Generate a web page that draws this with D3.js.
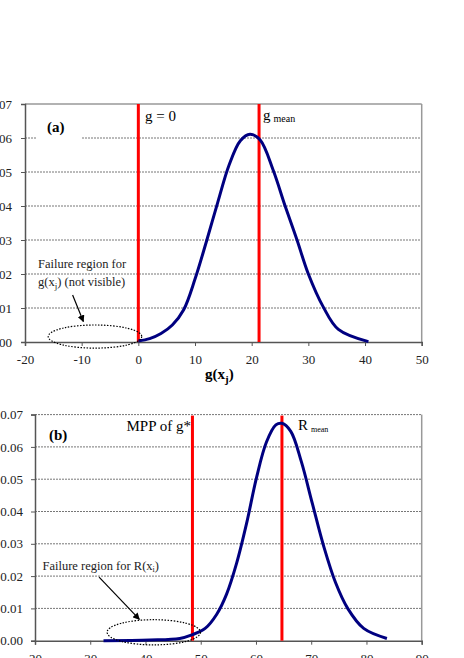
<!DOCTYPE html>
<html>
<head>
<meta charset="utf-8">
<script src="https://cdn.jsdelivr.net/npm/d3@7"></script>
<style>
  body { margin: 0; background: #fff; }
  svg { display: block; font-family: "Liberation Serif", "Times New Roman", serif; }
</style>
</head>
<body>
<div id="wrapper"></div>
<script>
// panel (a): g(xj) density
var gX = [0, 2, 4, 6, 8, 10, 12, 14, 16, 18, 19.7, 21.5, 23.8, 25.9, 28.0, 30.0, 32.6, 35.3, 40.6];
var gY = [0.0003, 0.001, 0.0025, 0.005, 0.0095, 0.0185, 0.0295, 0.041, 0.052, 0.0592, 0.0611, 0.0594, 0.0505, 0.040, 0.030, 0.020, 0.0104, 0.0037, 0.0001];
var gTicksX = [-20, -10, 0, 10, 20, 30, 40, 50];
var gLines = [0, 21.3];   // g = 0 and g mean

// panel (b): R(xi) density
var rX = [32.4, 40.8, 46.2, 48.4, 50.8, 52.9, 54.7, 56.5, 58.3, 60.1, 61.9, 63.6, 64.7, 66.3, 68.2, 70.2, 72.3, 74.4, 76.6, 79.5, 83.7];
var rY = [0.0, 0.0002, 0.0007, 0.0018, 0.0038, 0.0082, 0.0145, 0.024, 0.0363, 0.0505, 0.0615, 0.0668, 0.0673, 0.0648, 0.0555, 0.0425, 0.029, 0.018, 0.010, 0.0038, 0.0007];
var rTicksX = [20, 30, 40, 50, 60, 70, 80, 90];
var rLines = [48.5, 64.7];  // MPP of g* and R mean

var yTicks = [0, 0.01, 0.02, 0.03, 0.04, 0.05, 0.06, 0.07];

const svg = d3.select("#wrapper")
    .append("svg")
    .attr("width", 464)
    .attr("height", 658);

svg.append("defs").append("marker")
    .attr("id", "arr")
    .attr("viewBox", "0 0 10 10")
    .attr("refX", 9).attr("refY", 5)
    .attr("markerWidth", 7).attr("markerHeight", 7)
    .attr("markerUnits", "userSpaceOnUse")
    .attr("orient", "auto")
    .append("path")
    .attr("d", "M0,0 L10,5 L0,10 z")
    .attr("fill", "#000");

function panel(opt) {
    var x = d3.scaleLinear().domain(opt.xDomain).range([opt.left, opt.right]);
    var y = d3.scaleLinear().domain([0, 0.07]).range([opt.bottom, opt.top]);
    var g = svg.append("g");

    // grid
    g.selectAll(".grid")
        .data(yTicks.filter(d => d > 0 && (opt.topBorder ? d < 0.07 : true)))
        .enter().append("line")
        .attr("x1", opt.left).attr("x2", opt.right)
        .attr("y1", d => y(d)).attr("y2", d => y(d))
        .attr("stroke", "#777").attr("stroke-width", 1)
        .attr("stroke-dasharray", "2,1");

    // frame
    if (opt.topBorder) {
        g.append("line").attr("x1", opt.left).attr("x2", opt.right)
            .attr("y1", y(0.07)).attr("y2", y(0.07))
            .attr("stroke", "#999").attr("stroke-width", 1.5);
    }
    g.append("line").attr("x1", opt.right).attr("x2", opt.right)
        .attr("y1", y(0.07)).attr("y2", opt.bottom)
        .attr("stroke", "#999").attr("stroke-width", 1.5);

    // axes
    const ya = g.append("g")
        .attr("transform", `translate(${opt.left},0)`)
        .call(d3.axisLeft(y).tickValues(yTicks).tickFormat(d => d.toFixed(2)).tickSize(4).tickPadding(opt.yPad));
    const xa = g.append("g")
        .attr("transform", `translate(0,${opt.bottom})`)
        .call(d3.axisBottom(x).tickValues(opt.xTicks).tickFormat(d => String(d)).tickSize(4).tickPadding(opt.xPad));
    [ya, xa].forEach(a => {
        a.select(".domain").attr("stroke", "#555").attr("stroke-width", 1.5);
        a.selectAll(".tick line").attr("stroke", "#555");
        a.selectAll("text").attr("font-family", "Liberation Serif").attr("font-size", 13).attr("fill", "#222");
    });

    // panel label on white patch
    var lab = g.append("g");
    lab.append("rect")
        .attr("x", opt.labX - 11).attr("y", opt.labY - 14)
        .attr("width", 46).attr("height", opt.labH).attr("fill", "#fff");
    lab.append("text")
        .attr("x", opt.labX).attr("y", opt.labY)
        .attr("font-size", 15).attr("font-weight", "bold")
        .text(opt.label);

    // red lines
    g.selectAll(".red")
        .data(opt.lines)
        .enter().append("line")
        .attr("x1", d => x(d)).attr("x2", d => x(d))
        .attr("y1", y(0.07) + (opt.topBorder ? 0 : 1)).attr("y2", opt.bottom)
        .attr("stroke", "#f00").attr("stroke-width", 3);

    // curve
    var pts = opt.cx.map((v, i) => [v, opt.cy[i]]);
    g.append("path")
        .datum(pts)
        .attr("d", d3.line().x(d => x(d[0])).y(d => y(d[1])).curve(d3.curveCatmullRom.alpha(0.5)))
        .attr("fill", "none")
        .attr("stroke", "#000080")
        .attr("stroke-width", 3);

    // failure region ellipse and arrow
    var e = opt.ell;
    g.append("ellipse")
        .attr("cx", x(e.cx)).attr("cy", y(e.cy))
        .attr("rx", x(e.cx + e.rx) - x(e.cx)).attr("ry", y(0) - y(e.ry))
        .attr("fill", "none").attr("stroke", "#000")
        .attr("stroke-width", 1.2).attr("stroke-dasharray", "1.5,1.5");
    g.append("line")
        .attr("x1", x(opt.arrow[0])).attr("y1", y(opt.arrow[1]))
        .attr("x2", x(opt.arrow[2])).attr("y2", y(opt.arrow[3]))
        .attr("stroke", "#000").attr("stroke-width", 1.2)
        .attr("marker-end", "url(#arr)");

    return { x: x, y: y, g: g };
}

var A = panel({
    xDomain: [-20, 50], left: 25, right: 421.7, top: 104, bottom: 342,
    xTicks: gTicksX, cx: gX, cy: gY, lines: gLines, topBorder: true,
    yPad: 9, xPad: 9, label: "(a)", labX: 47, labY: 132, labH: 24,
    ell: { cx: -7.65, cy: 0.0016, rx: 8.25, ry: 0.0034 },
    arrow: [-11.6, 0.0138, -9.7, 0.006]
});

A.g.append("text").attr("x", 145).attr("y", 121).attr("font-size", 15).text("g = 0");
A.g.append("text").attr("x", 263).attr("y", 120).attr("font-size", 15)
    .text("g").append("tspan").attr("dx", 3).attr("dy", 2).attr("font-size", 10).text("mean");
A.g.append("text").attr("x", 38).attr("y", 268).attr("font-size", 12.5).attr("fill", "#222").text("Failure region for");
A.g.append("text").attr("x", 38).attr("y", 285.5).attr("font-size", 12.5).attr("fill", "#222")
    .text("g(x").append("tspan").attr("dy", 3).attr("font-size", 9).text("j")
    .select(function () { return this.parentNode; })
    .append("tspan").attr("dy", -3).text(") (not visible)");
A.g.append("text").attr("x", 205).attr("y", 379).attr("font-size", 15).attr("font-weight", "bold")
    .text("g(x").append("tspan").attr("dy", 4).attr("font-size", 11).text("j")
    .select(function () { return this.parentNode; })
    .append("tspan").attr("dy", -4).text(")");

var B = panel({
    xDomain: [20, 90], left: 35, right: 421.7, top: 414.6, bottom: 640.7,
    xTicks: rTicksX, cx: rX, cy: rY, lines: rLines, topBorder: false,
    yPad: 8, xPad: 9, label: "(b)", labX: 49, labY: 440, labH: 18,
    ell: { cx: 41.5, cy: 0.0026, rx: 8.45, ry: 0.0039 },
    arrow: [31.6, 0.0197, 38.9, 0.0066]
});

B.g.append("text").attr("x", 126.5).attr("y", 431).attr("font-size", 15).text("MPP of g*");
B.g.append("text").attr("x", 298).attr("y", 430).attr("font-size", 15)
    .text("R").append("tspan").attr("dx", 3).attr("dy", 2).attr("font-size", 8).text("mean");
B.g.append("text").attr("x", 42.5).attr("y", 570).attr("font-size", 12.5).attr("fill", "#222")
    .text("Failure region for R(x").append("tspan").attr("dy", 2).attr("font-size", 8).text("i")
    .select(function () { return this.parentNode; })
    .append("tspan").attr("dy", -2).text(")");
</script>
</body>
</html>
